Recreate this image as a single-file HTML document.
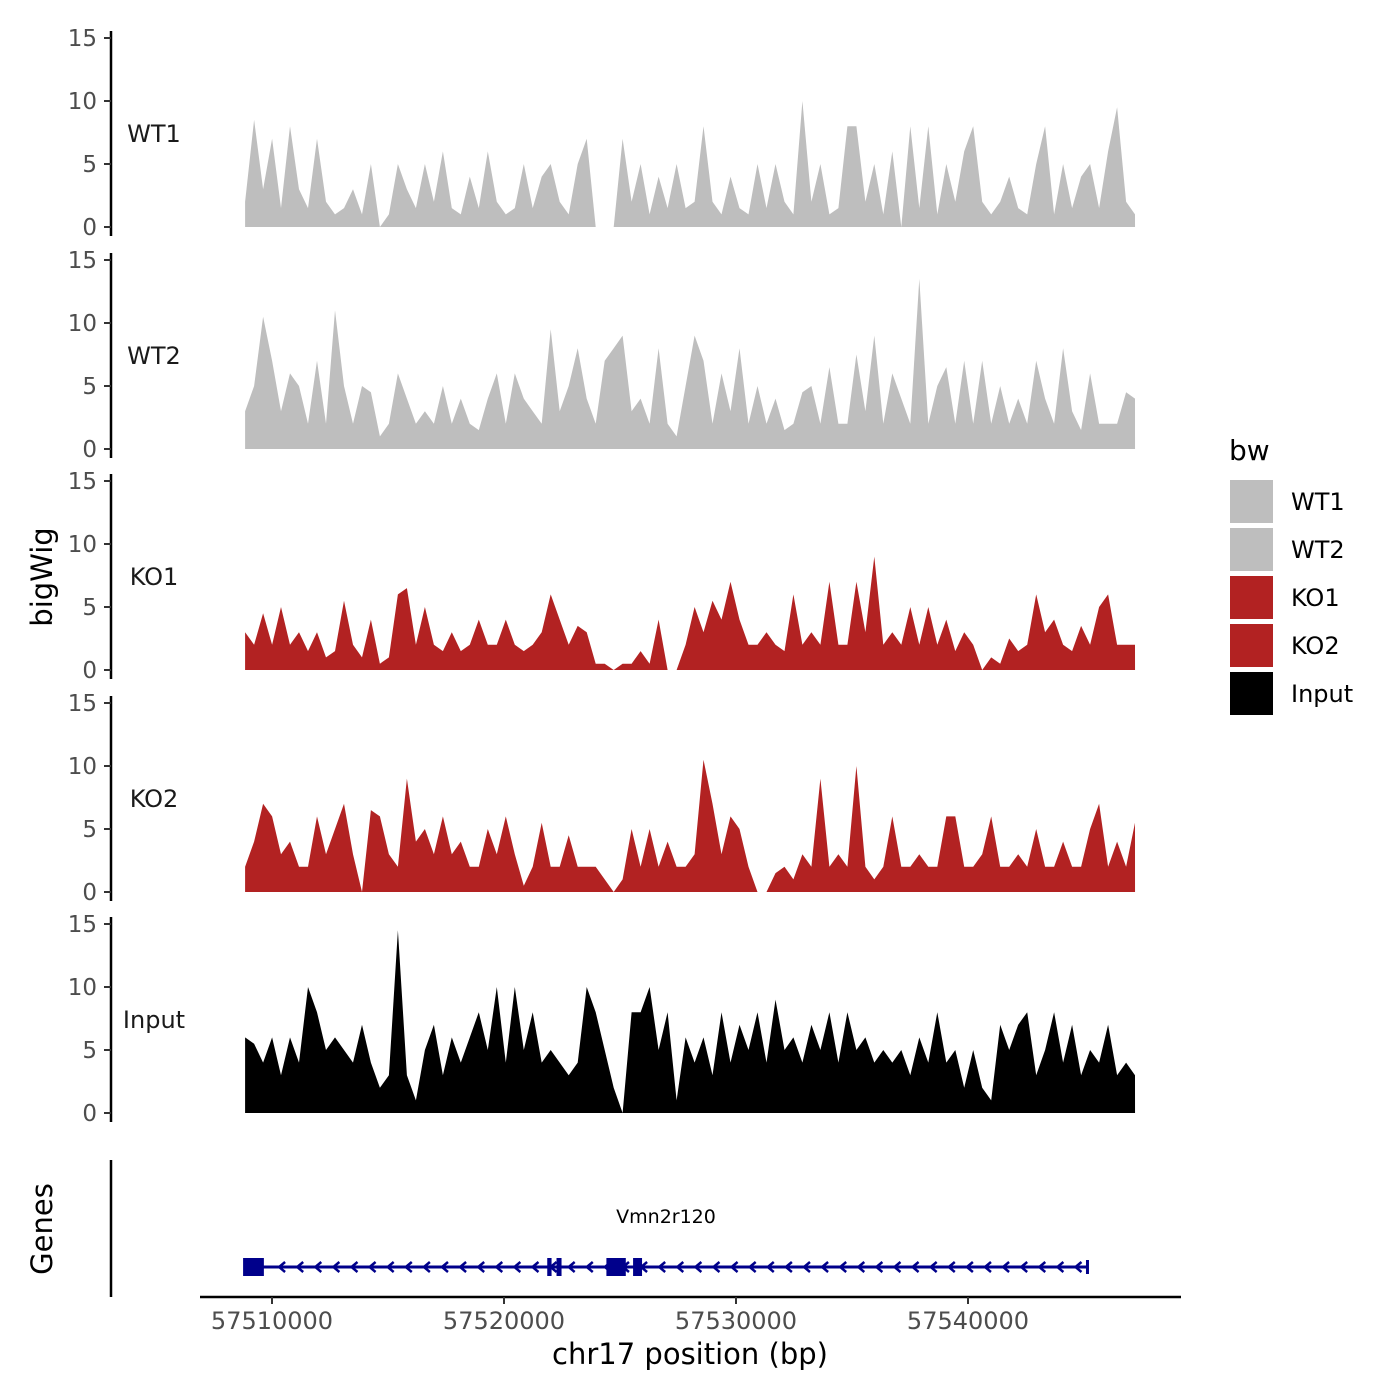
<!DOCTYPE html>
<html><head><meta charset="utf-8"><style>
html,body{margin:0;padding:0;background:#fff;}
svg{display:block;font-family:"DejaVu Sans","Liberation Sans",sans-serif;}
</style></head><body>
<svg id="chart" width="1400" height="1400" viewBox="0 0 1400 1400" xmlns="http://www.w3.org/2000/svg">
<rect width="1400" height="1400" fill="#fff"/>
<g id="tracks"></g>
<g id="genes"></g>
<text x="52" y="577" font-size="29" text-anchor="middle" transform="rotate(-90 52 577)">bigWig</text>
<text x="52" y="1229" font-size="29" text-anchor="middle" transform="rotate(-90 52 1229)">Genes</text>
<text x="690" y="1364" font-size="29" text-anchor="middle">chr17 position (bp)</text>
<g id="legend">
<text x="1229" y="460" font-size="28">bw</text>
</g>
</svg>
<script>
const trackNames = ["WT1","WT2","KO1","KO2","Input"];
const trackColors = ["#bebebe","#bebebe","#b22222","#b22222","#000000"];
const yTicks = [0,5,10,15];
const xTicks = [57510000,57520000,57530000,57540000];
const regionStart = 57508840, regionEnd = 57547200;
const wt1 = [2,8.5,3,7,1.5,8,3,1.5,7,2,1,1.5,3,1,5,0,1,5,3,1.5,5,2,6,1.5,1,4,1.5,6,2,1,1.5,5,1.5,4,5,2,1,5,7,0,0,0,7,2,5,1,4,1.5,5,1.5,2,8,2,1,4,1.5,1,5,1.5,5,2,1,10,2,5,1,1.5,8,8,2,5,1,6,0,8,1.5,8,1,5,2,6,8,2,1,2,4,1.5,1,5,8,1,5,1.5,4,5,1.5,6,9.5,2,1];
const wt2 = [3,5,10.5,7,3,6,5,2,7,2,11,5,2,5,4.5,1,2,6,4,2,3,2,5,2,4,2,1.5,4,6,2,6,4,3,2,9.5,3,5,8,4,2,7,8,9,3,4,2,8,2,1,5,9,7,2,6,3,8,2,5,2,4,1.5,2,4.5,5,2,6.5,2,2,7.5,3,9,2,6,4,2,13.5,2,5,6.5,2,7,2,7,2,5,2,4,2,7,4,2,8,3,1.5,6,2,2,2,4.5,4];
const ko1 = [3,2,4.5,2,5,2,3,1.5,3,1,1.5,5.5,2,1,4,0.5,1,6,6.5,2,5,2,1.5,3,1.5,2,4,2,2,4,2,1.5,2,3,6,4,2,3.5,3,0.5,0.5,0,0.5,0.5,1.5,0.5,4,0,0,2,5,3,5.5,4,7,4,2,2,3,2,1.5,6,2,3,2,7,2,2,7,3,9,2,3,2,5,2,5,2,4,1.5,3,2,0,1,0.5,2.5,1.5,2,6,3,4,2,1.5,3.5,2,5,6,2,2,2];
const ko2 = [2,4,7,6,3,4,2,2,6,3,5,7,3,0,6.5,6,3,2,9,4,5,3,6,3,4,2,2,5,3,6,3,0.5,2,5.5,2,2,4.5,2,2,2,1,0,1,5,2,5,2,4,2,2,3,10.5,7,3,6,5,2,0,0,1.5,2,1,3,2,9,2,3,2,10,2,1,2,6,2,2,3,2,2,6,6,2,2,3,6,2,2,3,2,5,2,2,4,2,2,5,7,2,4,2,5.5];
const inputVals = [6,5.5,4,6,3,6,4,10,8,5,6,5,4,7,4,2,3,14.5,3,1,5,7,3,6,4,6,8,5,10,4,10,5,8,4,5,4,3,4,10,8,5,2,0,8,8,10,5,8,1,6,4,6,3,8,4,7,5,8,4,9,5,6,4,7,5,8,4,8,5,6,4,5,4,5,3,6,4,8,4,5,2,5,2,1,7,5,7,8,3,5,8,4,7,3,5,4,7,3,4,3];
const geneStart = 57508840, geneEnd = 57545150;
const exons = [[57508840,57509650],[57521950,57522050],[57522350,57522480],[57524500,57525250],[57525650,57525950]];
const geneName = "Vmn2r120";

const NS="http://www.w3.org/2000/svg";
function mk(tag,attrs,parent){const e=document.createElementNS(NS,tag);for(const k in attrs)e.setAttribute(k,attrs[k]);parent.appendChild(e);return e;}
function xs(v){return 272+(v-57510000)*(968-272)/30000;}
const series=[wt1,wt2,ko1,ko2,inputVals];
const bases=[227,449,670,892,1113];
const unit=(227-38)/15;
const tg=document.getElementById('tracks');
series.forEach((vals,t)=>{
  const base=bases[t];
  const ys=v=>base-v*unit;
  const g=mk('g',{},tg);
  
  
  const ax=mk('line',{x1:111,x2:111,y1:ys(15)-7,y2:base+9,stroke:'#000','stroke-width':2.5},g);
  
  
  yTicks.forEach(v=>{
    const tk=mk('line',{x1:104,x2:111,y1:ys(v),y2:ys(v),stroke:'#333','stroke-width':2},g);
    
    
    const tl=mk('text',{x:97,y:ys(v)+8,'font-size':23,'text-anchor':'end',fill:'#4d4d4d'},g);
    tl.textContent=v;
    
    
  });
  const lab=mk('text',{x:154,y:ys(7)+3,'font-size':24,'text-anchor':'middle',fill:'#1a1a1a'},g);
  lab.textContent=trackNames[t];
  
  
  const n=vals.length, step=(regionEnd-regionStart)/(n-1);
  let d='M'+xs(regionStart)+','+base;
  vals.forEach((v,i)=>{d+=' L'+xs(regionStart+i*step).toFixed(1)+','+ys(v).toFixed(1);});
  d+=' L'+xs(regionEnd)+','+base+' Z';
  const a=mk('path',{d:d,fill:trackColors[t]},g);
  
  
});
const gg=document.getElementById('genes');
const gy=1267;
const gl=mk('line',{x1:111,x2:111,y1:1160,y2:1297,stroke:'#000','stroke-width':2.5},gg);


const xl=mk('line',{x1:200,x2:1181,y1:1297,y2:1297,stroke:'#000','stroke-width':2.5},gg);


xTicks.forEach(v=>{
  const tk=mk('line',{x1:xs(v),x2:xs(v),y1:1297,y2:1304,stroke:'#333','stroke-width':2},gg);
  
  
  const tl=mk('text',{x:xs(v),y:1329,'font-size':24,'text-anchor':'middle',fill:'#4d4d4d'},gg);
  tl.textContent=v;
  
  
});
const gline=mk('line',{x1:xs(geneStart),x2:xs(geneEnd),y1:gy,y2:gy,stroke:'#00008b','stroke-width':3},gg);


for(let x=xs(geneStart)+36;x<xs(geneEnd);x+=18.1){
  const ar=mk('polyline',{points:`${x+4},${gy-5} ${x-2},${gy} ${x+4},${gy+5}`,fill:'none',stroke:'#00008b','stroke-width':2.5},gg);
  
  
}
const endM=mk('line',{x1:xs(geneEnd),x2:xs(geneEnd),y1:gy-7,y2:gy+7,stroke:'#00008b','stroke-width':3},gg);


exons.forEach(e=>{
  const x0=xs(e[0]),x1=xs(e[1]);
  const r=mk('rect',{x:x0-2,y:gy-9,width:Math.max(3,x1-x0+2),height:18,fill:'#00008b'},gg);
  
  
});
const gn=mk('text',{x:666,y:1223,'font-size':19,'text-anchor':'middle',fill:'#000'},gg);
gn.textContent=geneName;


const lg=document.getElementById('legend');
trackNames.forEach((nm,i)=>{
  const y=480+i*48;
  const r=mk('rect',{x:1230,y:y,width:43,height:43,fill:trackColors[i]},lg);
  
  
  const t=mk('text',{x:1291,y:y+30,'font-size':24,fill:'#000'},lg);
  t.textContent=nm;
  
  
});
</script>
</body></html>
